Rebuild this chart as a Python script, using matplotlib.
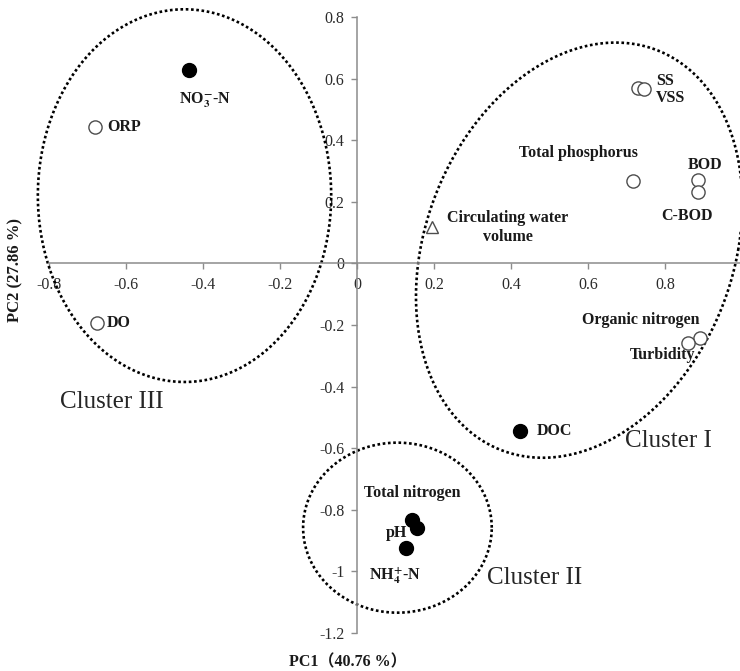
import numpy as np
import matplotlib
matplotlib.use("Agg")
import matplotlib.pyplot as plt
from matplotlib.ticker import FuncFormatter, MultipleLocator

plt.rcParams["font.family"] = ["Liberation Serif", "Noto Sans CJK JP"]
plt.rcParams["mathtext.fontset"] = "stix"
plt.rcParams["axes.unicode_minus"] = False

# ---------------------------------------------------------------------------
# PCA loadings
# ---------------------------------------------------------------------------
OPEN_NAMES = ["ORP", "DO", "SS", "VSS", "Total phosphorus", "BOD", "C-BOD",
              "Organic nitrogen", "Turbidity"]
OPEN_PC1 = [-0.681, -0.675, 0.730, 0.745, 0.717, 0.886, 0.886, 0.891, 0.860]
OPEN_PC2 = [0.442, -0.194, 0.571, 0.565, 0.267, 0.270, 0.231, -0.242, -0.258]

FILLED_NAMES = [r"NO$_\mathbf{3}^\mathbf{-}$-N", "DOC", "Total nitrogen", "pH",
                r"NH$_\mathbf{4}^\mathbf{+}$-N"]
FILLED_PC1 = [-0.436, 0.423, 0.142, 0.157, 0.127]
FILLED_PC2 = [0.627, -0.544, -0.832, -0.859, -0.924]

TRI_NAMES = ["Circulating water\nvolume"]
TRI_PC1 = [0.195]
TRI_PC2 = [0.118]

# label placement: (dx, dy) in points, horizontal alignment
OPEN_LABEL_POS = [(8.6, 0, "left"), (7.2, 0, "left"), (13, 5, "left"),
                  (8.6, -6.5, "left"), (-39, 20, "center"), (5, 10.8, "center"),
                  (-8, -17.3, "center"), (-42.5, 13, "center"), (-18.7, -8.6, "center")]
FILLED_LABEL_POS = [(11.5, -21.6, "center"), (12.2, 0, "left"), (0.6, 19.4, "center"),
                    (-15.3, -3.6, "center"), (-7.9, -19.4, "center")]
TRI_LABEL_POS = [(54.7, 0, "center")]

# cluster outlines: centre, conjugate semi-diameters (data units)
CLUSTERS = {
    "Cluster I":   dict(c=(0.577, 0.043), u=(0.413, 0.0), v=(0.095, 0.674), text=(0.81, -0.578)),
    "Cluster II":  dict(c=(0.105, -0.858), u=(0.245, 0.0), v=(0.0, 0.276), text=(0.462, -1.022)),
    "Cluster III": dict(c=(-0.448, 0.220), u=(0.381, 0.0), v=(0.0, 0.605), text=(-0.636, -0.449)),
}

SPINE_COLOR = "#8c8c8c"
TEXT_COLOR = "#1a1a1a"

fig = plt.figure(figsize=(7.4, 6.71), dpi=100)
ax = fig.add_axes([49 / 740, 1 - 633 / 671, (742 - 49) / 740, (633 - 17) / 671])
ax.set_xlim(-0.8, 1.0)
ax.set_ylim(-1.2, 0.8)

# axes through the origin
for side in ("top", "right"):
    ax.spines[side].set_visible(False)
ax.spines["left"].set_position(("data", 0))
ax.spines["bottom"].set_position(("data", 0))
for side in ("left", "bottom"):
    ax.spines[side].set_color(SPINE_COLOR)
    ax.spines[side].set_linewidth(1.1)

ax.xaxis.set_major_locator(MultipleLocator(0.2))
ax.yaxis.set_major_locator(MultipleLocator(0.2))
# the "1" at the right edge is cut off in the original, so it is left blank
ax.xaxis.set_major_formatter(FuncFormatter(lambda v, p: "" if v > 0.9 else f"{round(v, 1):g}"))
ax.yaxis.set_major_formatter(FuncFormatter(lambda v, p: f"{round(v, 1):g}"))
ax.tick_params(axis="both", direction="out", length=4, width=1, color=SPINE_COLOR,
               labelsize=11.5, labelcolor="#2b2b2b")
ax.tick_params(axis="x", pad=6)
ax.tick_params(axis="y", pad=5)

# cluster ellipses (dotted)
t = np.linspace(0, 2 * np.pi, 400)
for name, e in CLUSTERS.items():
    xs = e["c"][0] + e["u"][0] * np.cos(t) + e["v"][0] * np.sin(t)
    ys = e["c"][1] + e["u"][1] * np.cos(t) + e["v"][1] * np.sin(t)
    ax.plot(xs, ys, color="black", lw=1.9, ls=(0, (1, 1)), zorder=2, clip_on=False)
    ax.text(e["text"][0], e["text"][1], name, fontsize=18, color="#262626",
            ha="center", va="center")

# points
ax.plot(OPEN_PC1, OPEN_PC2, "o", ms=9.5, mfc="white", mec="#4d4d4d", mew=1.0,
        ls="none", zorder=3)
ax.plot(FILLED_PC1, FILLED_PC2, "o", ms=10, mfc="black", mec="black", ls="none", zorder=3)
ax.plot(TRI_PC1, TRI_PC2, "^", ms=9, mfc="white", mec="#4d4d4d", mew=1.0,
        ls="none", zorder=3)


def _labels(names, xs, ys, pos):
    for n, x, y, (dx, dy, ha) in zip(names, xs, ys, pos):
        ax.annotate(n, (x, y), xytext=(dx, dy), textcoords="offset points",
                    ha=ha, va="center", fontsize=11.5, fontweight="bold",
                    color=TEXT_COLOR, linespacing=1.25)


_labels(OPEN_NAMES, OPEN_PC1, OPEN_PC2, OPEN_LABEL_POS)
_labels(FILLED_NAMES, FILLED_PC1, FILLED_PC2, FILLED_LABEL_POS)
_labels(TRI_NAMES, TRI_PC1, TRI_PC2, TRI_LABEL_POS)

# axis titles
fig.text(15.5 / 740, 1 - 270 / 671, "PC2 (27.86 %)", rotation=90, ha="center",
         va="center", fontsize=12, fontweight="bold", color=TEXT_COLOR)
fig.text(348 / 740, 1 - 662 / 671, "PC1（40.76 %）", ha="center", va="center",
         fontsize=11.5, fontweight="bold", color=TEXT_COLOR)

fig.savefig("out.png", dpi=100)
